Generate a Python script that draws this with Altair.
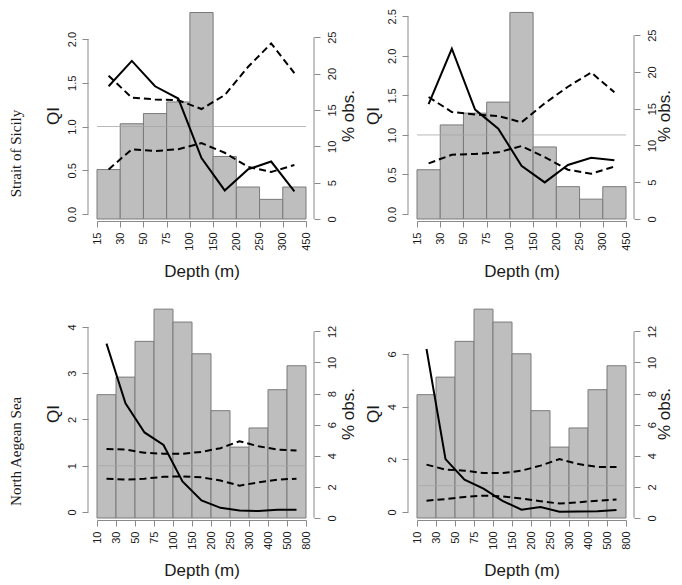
import json
import pandas as pd
import altair as alt

# ---------------- data ----------------
sicily_depth_labels = ["15", "30", "50", "75", "100", "150", "200", "250", "300", "450"]
aegean_depth_labels = ["10", "30", "50", "75", "100", "150", "200", "250", "300", "400", "500", "800"]

# Strait of Sicily - left panel
sic_l_pct = [6.8, 13.1, 14.5, 16.1, 28.4, 8.6, 4.4, 2.7, 4.4]
sic_l_qi = [1.46, 1.75, 1.46, 1.32, 0.64, 0.27, 0.51, 0.60, 0.26]
sic_l_upper = [1.58, 1.33, 1.31, 1.30, 1.20, 1.36, 1.68, 1.95, 1.61]
sic_l_lower = [0.51, 0.74, 0.72, 0.74, 0.81, 0.70, 0.54, 0.48, 0.56]

# Strait of Sicily - right panel
sic_r_pct = [6.7, 12.8, 14.4, 15.9, 28.1, 9.8, 4.4, 2.7, 4.4]
sic_r_qi = [1.39, 2.09, 1.32, 1.08, 0.61, 0.40, 0.62, 0.71, 0.68]
sic_r_upper = [1.48, 1.29, 1.26, 1.24, 1.16, 1.40, 1.61, 1.79, 1.54]
sic_r_lower = [0.64, 0.75, 0.76, 0.78, 0.86, 0.72, 0.56, 0.51, 0.60]

# North Aegean Sea - left panel
aeg_l_pct = [7.93, 9.06, 11.36, 13.43, 12.6, 10.56, 6.9, 4.56, 5.79, 8.25, 9.79]
aeg_l_qi = [3.64, 2.35, 1.72, 1.45, 0.66, 0.25, 0.09, 0.03, 0.02, 0.05, 0.05]
aeg_l_upper = [1.36, 1.35, 1.28, 1.26, 1.26, 1.30, 1.38, 1.53, 1.42, 1.35, 1.33]
aeg_l_lower = [0.72, 0.70, 0.72, 0.76, 0.77, 0.75, 0.68, 0.57, 0.64, 0.70, 0.72]

# North Aegean Sea - right panel
aeg_r_pct = [7.93, 9.06, 11.36, 13.43, 12.6, 10.56, 6.9, 4.56, 5.79, 8.25, 9.79]
aeg_r_qi = [6.19, 2.01, 1.23, 0.89, 0.42, 0.09, 0.19, 0.01, 0.02, 0.03, 0.08]
aeg_r_upper = [1.80, 1.61, 1.57, 1.48, 1.48, 1.57, 1.76, 2.01, 1.82, 1.71, 1.71]
aeg_r_lower = [0.43, 0.49, 0.57, 0.62, 0.59, 0.51, 0.41, 0.32, 0.37, 0.43, 0.47]

row_titles = ["Strait of Sicily", "North Aegean Sea"]

# ---------------- style ----------------
SANS = "Liberation Sans"
SERIF = "Liberation Serif"
AXIS_GRAY = "#8a8a8a"
TEXT = "#1a1a1a"
W = 209


def panel(labels, pct, qi, upper, lower, qi_dom, qi_ticks, qi_fmt,
          pct_dom, pct_ticks, height, pct_title_x, row_title=None):
    n = len(pct)
    bars = pd.DataFrame({"x0": list(range(n)), "x1": [i + 1 for i in range(n)], "pct": pct})
    lines = pd.DataFrame({
        "pos": [i + 0.5 for i in range(n)] * 3,
        "val": list(qi) + list(upper) + list(lower),
        "kind": ["QI"] * n + ["upper"] * n + ["lower"] * n,
    })
    qi_axis_line = pd.DataFrame({"lo": [qi_ticks[0]], "hi": [qi_ticks[-1]]})
    pct_axis_line = pd.DataFrame({"lo": [pct_ticks[0]], "hi": [pct_ticks[-1]]})
    ref = pd.DataFrame({"one": [1.0]})

    xscale = alt.Scale(domain=[0, n], nice=False, zero=False)
    xaxis = alt.Axis(
        values=list(range(n + 1)), labelExpr=json.dumps(labels) + "[datum.value]",
        labelAngle=270, labelAlign="right", labelBaseline="middle",
        labelPadding=5, tickSize=6, offset=2, grid=False,
        title="Depth (m)", titleY=50, titleBaseline="middle",
    )
    qscale = alt.Scale(domain=qi_dom, nice=False, zero=False)
    qaxis = alt.Axis(
        orient="left", values=qi_ticks, format=qi_fmt, offset=9, domain=False,
        tickSize=6, labelAngle=270, labelAlign="center", labelBaseline="bottom",
        labelPadding=5, grid=False, title="QI", titleAngle=270, titleX=-35,
        titleBaseline="middle",
    )
    pscale = alt.Scale(domain=pct_dom, nice=False, zero=False)
    paxis = alt.Axis(
        orient="right", values=pct_ticks, format="d", offset=8, domain=False,
        tickSize=6, labelAngle=270, labelAlign="center", labelBaseline="top",
        labelPadding=6, grid=False, title="% obs.", titleAngle=270,
        titleX=pct_title_x, titleBaseline="middle",
    )

    bar_layer = alt.Chart(bars).mark_rect(
        fill="#bebebe", stroke="#7a7a7a", strokeWidth=1
    ).encode(
        x=alt.X("x0:Q", scale=xscale, axis=xaxis),
        x2="x1:Q",
        y=alt.Y("pct:Q", scale=pscale, axis=paxis),
        y2=alt.datum(0),
    )
    pct_line = alt.Chart(pct_axis_line).mark_rule(color=AXIS_GRAY, strokeWidth=1).encode(
        x=alt.value(W + 8),
        y=alt.Y("lo:Q", scale=pscale, axis=paxis),
        y2="hi:Q",
    )
    right = alt.layer(bar_layer, pct_line)

    hline = alt.Chart(ref).mark_rule(color="#a6a6a6", strokeWidth=0.8).encode(
        y=alt.Y("one:Q", scale=qscale, axis=qaxis),
    )
    dashed = alt.Chart(lines).transform_filter("datum.kind != 'QI'").mark_line(
        color="black", strokeWidth=2, strokeDash=[7, 4]
    ).encode(
        x=alt.X("pos:Q", scale=xscale, axis=xaxis),
        y=alt.Y("val:Q", scale=qscale, axis=qaxis),
        detail="kind:N",
    )
    solid = alt.Chart(lines).transform_filter("datum.kind == 'QI'").mark_line(
        color="black", strokeWidth=2
    ).encode(
        x=alt.X("pos:Q", scale=xscale, axis=xaxis),
        y=alt.Y("val:Q", scale=qscale, axis=qaxis),
    )
    q_line = alt.Chart(qi_axis_line).mark_rule(color=AXIS_GRAY, strokeWidth=1).encode(
        x=alt.value(-9),
        y=alt.Y("lo:Q", scale=qscale, axis=qaxis),
        y2="hi:Q",
    )
    left = alt.layer(hline, dashed, solid, q_line)

    ch = alt.layer(right, left).resolve_scale(y="independent").properties(
        width=W, height=height
    )
    if row_title:
        ch = ch.properties(title=alt.TitleParams(
            row_title, orient="left", anchor="middle", frame="bounds",
            font=SERIF, fontSize=15, fontWeight="normal", color=TEXT,
            offset=20, dx=-8,
        ))
    return ch


tl = panel(sicily_depth_labels, sic_l_pct, sic_l_qi, sic_l_upper, sic_l_lower,
           [-0.057, 2.309], [0, 0.5, 1.0, 1.5, 2.0], ".1f",
           [0, 28.47], [0, 5, 10, 15, 20, 25], 207, 34, row_titles[0])
tr = panel(sicily_depth_labels, sic_r_pct, sic_r_qi, sic_r_upper, sic_r_lower,
           [-0.063, 2.555], [0, 0.5, 1.0, 1.5, 2.0, 2.5], ".1f",
           [0, 28.16], [0, 5, 10, 15, 20, 25], 207, 30)
bl = panel(aegean_depth_labels, aeg_l_pct, aeg_l_qi, aeg_l_upper, aeg_l_lower,
           [-0.13, 4.389], [0, 1, 2, 3, 4], "d",
           [0, 13.44], [0, 2, 4, 6, 8, 10, 12], 209, 34, row_titles[1])
br = panel(aegean_depth_labels, aeg_r_pct, aeg_r_qi, aeg_r_upper, aeg_r_lower,
           [-0.228, 7.71], [0, 2, 4, 6], "d",
           [0, 13.44], [0, 2, 4, 6, 8, 10, 12], 209, 30)

chart = alt.concat(
    tl, tr, bl, br, columns=2, spacing={"row": 90, "column": 111}, bounds="flush"
).properties(
    autosize=alt.AutoSizeParams(type="none"),
    padding={"left": 89, "top": 4, "right": 577, "bottom": 570},
).configure_view(
    strokeWidth=0
).configure_axis(
    labelFont=SANS, labelFontSize=11, labelColor=TEXT,
    titleFont=SANS, titleFontSize=17, titleFontWeight="normal", titleColor=TEXT,
    domainColor=AXIS_GRAY, tickColor=AXIS_GRAY, domainWidth=1, tickWidth=1,
)

chart.save("out.html", embed_options={"renderer": "svg", "actions": False})
